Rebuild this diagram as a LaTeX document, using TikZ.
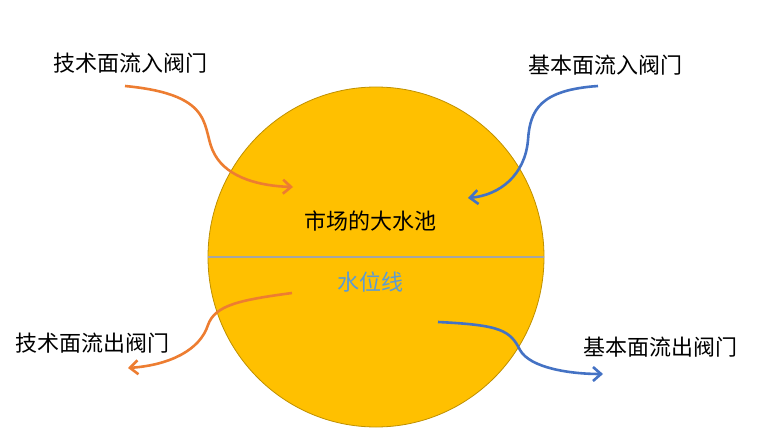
\documentclass[tikz,border=0pt]{standalone}
\usepackage{fontspec}
\setmainfont{Noto Sans CJK SC}
\usetikzlibrary{arrows.meta}
\definecolor{pool_fill}{HTML}{FFC000}
\definecolor{pool_edge}{HTML}{BF9000}
\definecolor{tech_flow}{HTML}{ED7D31}
\definecolor{base_flow}{HTML}{4472C4}
\definecolor{level_line}{HTML}{A5A5A5}
\definecolor{level_text}{HTML}{5B9BD5}
\begin{document}
\begin{tikzpicture}[
	x=1pt, y=-1pt,
	label/.style = {font=\fontsize{22}{26}\selectfont, inner sep=0pt},
	techarrow/.style = {draw=tech_flow, line width=2.6pt, -{Straight Barb[length=8pt, width=14pt]}},
	basearrow/.style = {draw=base_flow, line width=2.6pt, -{Straight Barb[length=8pt, width=14pt]}},
]
\useasboundingbox (0,0) rectangle (768,441);

% Pool
\draw[fill=pool_fill, draw=pool_edge, line width=0.8pt] (376,257) ellipse (168 and 170);
\coordinate (LevelL) at (208,257);
\coordinate (LevelR) at (544,257);
\draw[level_line, line width=2.4pt] (LevelL) -- (LevelR);
\node[label] (Pool) at (370,221) {市场的大水池};
\node[label, text=level_text] (Level) at (370,282) {水位线};

% Labels
\node[label] (TechIn) at (130,63) {技术面流入阀门};
\node[label] (BaseIn) at (605,65) {基本面流入阀门};
\node[label] (TechOut) at (93,343) {技术面流出阀门};
\node[label] (BaseOut) at (660,347) {基本面流出阀门};

% Flows
\coordinate (TechInS) at (125,86);
\coordinate (TechInE) at (293,187);
\coordinate (BaseInS) at (598,86);
\coordinate (BaseInE) at (468,198);
\coordinate (TechOutS) at (292,293);
\coordinate (TechOutE) at (128,368);
\coordinate (BaseOutS) at (438,322);
\coordinate (BaseOutE) at (603,374);
\path[techarrow] (TechInS) .. controls (220,95) and (200,130) .. (215,155) .. controls (228,178) and (260,186) .. (TechInE);
\path[basearrow] (BaseInS) .. controls (540,90) and (530,110) .. (528,140) .. controls (525,175) and (500,195) .. (BaseInE);
\path[techarrow] (TechOutS) .. controls (240,300) and (215,305) .. (208,325) .. controls (200,350) and (170,365) .. (TechOutE);
\path[basearrow] (BaseOutS) .. controls (500,325) and (510,330) .. (520,350) .. controls (530,368) and (570,374) .. (BaseOutE);
\end{tikzpicture}
\end{document}
